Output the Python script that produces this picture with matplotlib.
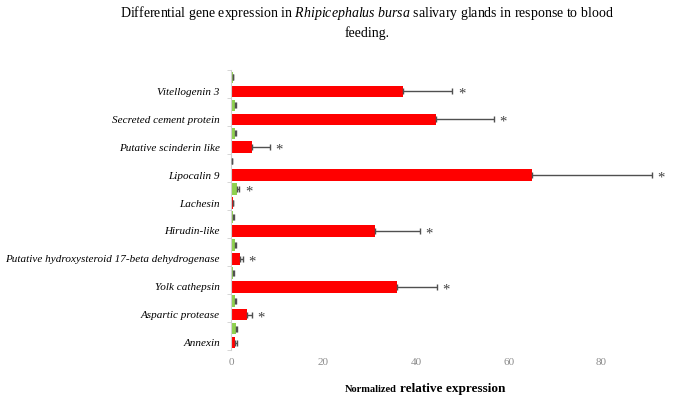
import numpy as np
import matplotlib
matplotlib.use("Agg")
import matplotlib.pyplot as plt

# DATA (top to bottom as in the chart)
genes = ["Vitellogenin 3", "Secreted cement protein", "Putative scinderin like",
         "Lipocalin 9", "Lachesin", "Hirudin-like",
         "Putative hydroxysteroid 17-beta dehydrogenase", "Yolk cathepsin",
         "Aspartic protease", "Annexin"]
fed = [37.1, 44.3, 4.5, 65.0, 0.4, 31.2, 1.9, 35.8, 3.5, 0.9]
fed_err = [10.7, 12.5, 3.9, 26.0, 0.1, 9.6, 0.6, 8.7, 1.0, 0.3]
fed_sig = [True, True, True, True, False, True, True, True, True, False]
unfed = [0.4, 0.9, 0.9, 0.15, 1.2, 0.5, 0.95, 0.45, 0.95, 1.1]
unfed_err = [0.1, 0.2, 0.2, 0.05, 0.6, 0.1, 0.15, 0.1, 0.15, 0.1]
unfed_sig = [False, False, False, False, True, False, False, False, False, False]
xticks = [0, 20, 40, 60, 80]

RED = "#ff0000"
GREEN = "#8fd14f"
ERR = "#505050"

plt.rcParams["font.family"] = ["Liberation Serif", "DejaVu Serif"]
plt.rcParams["mathtext.fontset"] = "custom"
plt.rcParams["mathtext.rm"] = "Liberation Serif"
plt.rcParams["mathtext.it"] = "Liberation Serif:italic"

fig = plt.figure(figsize=(6.86, 3.99), dpi=100)
ax = fig.add_axes([0.3367, 0.1236, 0.6633, 0.70])

n = len(genes)
y_red = np.array([2 * (n - 1 - i) for i in range(n)], dtype=float)
y_green = y_red + 1

ax.barh(y_red, fed, height=0.82, color=RED, zorder=2)
ax.barh(y_green, unfed, height=0.82, color=GREEN, zorder=2)

zeros = np.zeros(n)
ax.errorbar(fed, y_red, xerr=[zeros, fed_err], fmt="none", ecolor=ERR,
            elinewidth=1, capsize=2.5, capthick=1, zorder=3)
ax.errorbar(unfed, y_green, xerr=[zeros, unfed_err], fmt="none", ecolor=ERR,
            elinewidth=1, capsize=2.5, capthick=1, zorder=3)

# significance stars
for v, e, y, s in zip(fed, fed_err, y_red, fed_sig):
    if s:
        ax.annotate("*", (v + e, y), xytext=(4, -2), textcoords="offset points",
                    fontsize=10.5, color="#404040", va="center", clip_on=False)
for v, e, y, s in zip(unfed, unfed_err, y_green, unfed_sig):
    if s:
        ax.annotate("*", (v + e, y), xytext=(4, -2), textcoords="offset points",
                    fontsize=10.5, color="#404040", va="center", clip_on=False)

ax.set_xlim(0, 98.3)
ax.set_ylim(-0.5, 2 * n - 0.5)
ax.set_xticks(xticks)
ax.set_xticklabels([str(t) for t in xticks], color="#8c8c8c", fontsize=8)
ax.tick_params(axis="x", length=0, pad=6)

ax.set_yticks(y_red)
ax.set_yticklabels(genes, fontsize=8.0, style="italic")
ax.set_yticks(np.arange(-0.5, 2 * n, 2), minor=True)
ax.tick_params(axis="y", which="major", length=0, pad=8)
ax.tick_params(axis="y", which="minor", length=3, color="#d0d0d0")

for side in ["top", "right", "bottom"]:
    ax.spines[side].set_visible(False)
ax.spines["left"].set_color("#d0d0d0")

fig.text(0.535, 0.968,
         r"Differential gene expression in $\it{Rhipicephalus\ bursa}$ salivary glands in response to blood",
         ha="center", va="center", fontsize=10)
fig.text(0.535, 0.918, "feeding.", ha="center", va="center", fontsize=10)

fig.text(397 / 686, 1 - 392 / 399, "Normalized", ha="right", va="baseline",
         fontsize=7.5, fontweight="bold")
fig.text(400 / 686, 1 - 392 / 399, "relative expression", ha="left", va="baseline",
         fontsize=9.5, fontweight="bold")

fig.savefig("out.png", dpi=100)
